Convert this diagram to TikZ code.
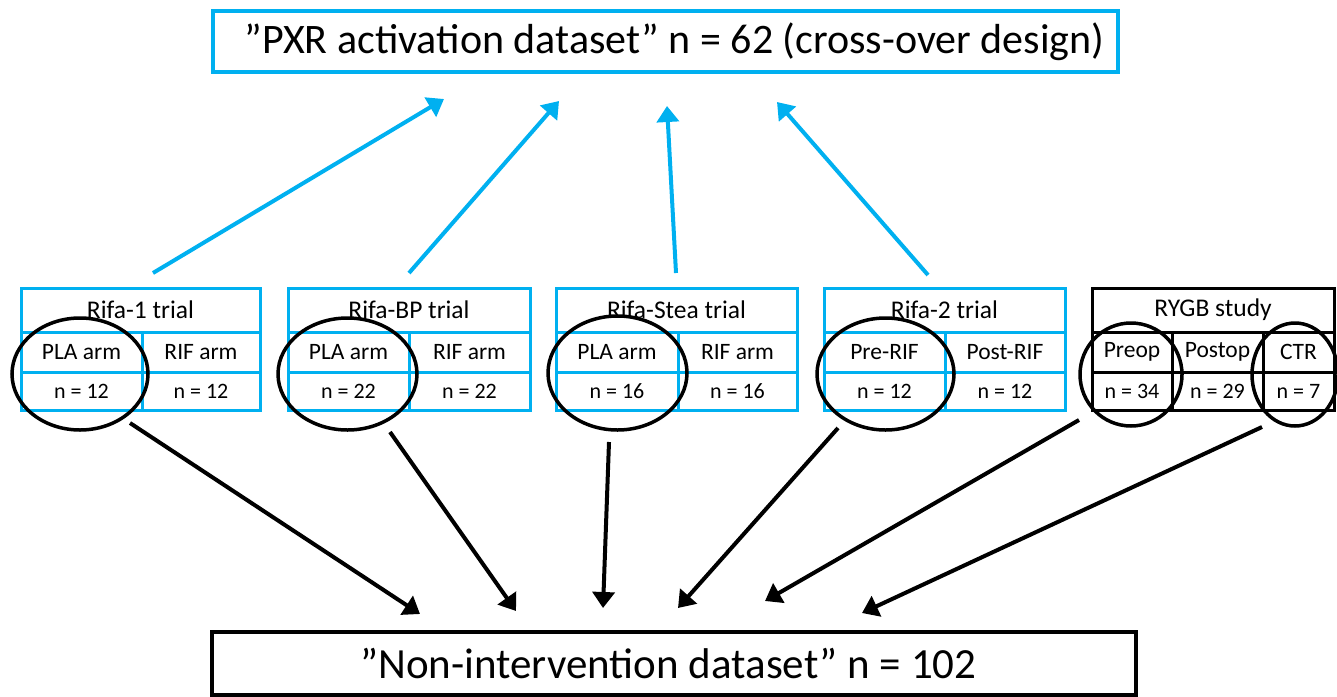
\documentclass[tikz,border=0pt]{standalone}
\usepackage{fontspec}
\setmainfont{Carlito}
\usetikzlibrary{arrows.meta,shapes.geometric}
\definecolor{cblue}{HTML}{00B0F0}
\tikzset{
  cellb/.style={draw=cblue, line width=3pt, inner sep=0pt, outer sep=0pt},
  cellk/.style={draw=black, line width=3pt, inner sep=0pt, outer sep=0pt},
  ttl/.style={font=\fontsize{25.5}{28}\selectfont},
  armf/.style={font=\fontsize{23.5}{26}\selectfont},
  nf/.style={font=\fontsize{22}{24}\selectfont},
  ell/.style={ellipse, draw=black, line width=3.5pt, inner sep=0pt},
  barrow/.style={draw=cblue, line width=4pt, -{Triangle[length=16pt,width=22pt]}},
  karrow/.style={draw=black, line width=4pt, -{Triangle[length=16pt,width=22pt]}},
}
% #1 id, #2 style, #3 L, #4 M, #5 R, #6 title, #7 a, #8 b, #9 n
\newcommand\mytrial[9]{%
  \node[#2, ttl, minimum width={(#5-#3)*1pt}, minimum height=44pt] (#1t) at ({(#3+#5)/2},310) {#6};
  \node[#2, armf, minimum width={(#4-#3)*1pt}, minimum height=40pt] (#1a) at ({(#3+#4)/2},352) {#7};
  \node[#2, armf, minimum width={(#5-#4)*1pt}, minimum height=40pt] (#1b) at ({(#4+#5)/2},352) {#8};
  \node[#2, nf, minimum width={(#4-#3)*1pt}, minimum height=38pt] (#1c) at ({(#3+#4)/2},391) {n = #9};
  \node[#2, nf, minimum width={(#5-#4)*1pt}, minimum height=38pt] (#1d) at ({(#4+#5)/2},391) {n = #9};
}
\begin{document}
\begin{tikzpicture}[x=1pt,y=-1pt]
\useasboundingbox (0,0) rectangle (1337,696);

% top and bottom boxes
\node[draw=cblue, line width=4pt, minimum width=905pt, minimum height=61pt, inner sep=0pt] (top) at (665.5,41.5) {};
\node[font=\fontsize{42}{46}\selectfont] (toptxt) at (674.5,41.5) {”PXR activation dataset” n = 62 (cross-over design)};
\node[draw=black, line width=3.5pt, minimum width=924pt, minimum height=63pt, inner sep=0pt] (bot) at (674,663.5) {};
\node[font=\fontsize{43}{47}\selectfont] (bottxt) at (668.5,663.5) {”Non-intervention dataset” n = 102};

% trials
\mytrial{ra}{cellb}{21}{142}{260}{Rifa-1 trial}{PLA arm}{RIF arm}{12}
\mytrial{rb}{cellb}{288}{409}{530}{Rifa-BP trial}{PLA arm}{RIF arm}{22}
\mytrial{rc}{cellb}{556}{678}{797}{Rifa-Stea trial}{PLA arm}{RIF arm}{16}
\mytrial{rd}{cellb}{824}{945}{1065}{Rifa-2 trial}{Pre-RIF}{Post-RIF}{12}

% RYGB study
\node[cellk, ttl, minimum width=242pt, minimum height=44pt] (ryt) at (1213,310) {RYGB study};
\node[cellk, armf, minimum width=80pt, minimum height=40pt] (rya) at (1132,352) {Preop};
\node[cellk, armf, minimum width=91pt, minimum height=40pt] (ryb) at (1217.5,352) {Postop};
\node[cellk, armf, minimum width=71pt, minimum height=40pt] (ryc) at (1298.5,352) {CTR};
\node[cellk, nf, minimum width=80pt, minimum height=38pt] (ryd) at (1132,391) {n = 34};
\node[cellk, nf, minimum width=91pt, minimum height=38pt] (rye) at (1217.5,391) {n = 29};
\node[cellk, nf, minimum width=71pt, minimum height=38pt] (ryf) at (1298.5,391) {n = 7};

% ellipses
\node[ell, minimum width=136pt, minimum height=112pt] (e1) at (80,374) {};
\node[ell, minimum width=139pt, minimum height=112pt] (e2) at (347.5,374) {};
\node[ell, minimum width=139pt, minimum height=114pt] (e3) at (617.5,373) {};
\node[ell, minimum width=137pt, minimum height=112pt] (e4) at (885.5,374) {};
\node[ell, minimum width=102pt, minimum height=103pt] (e5) at (1131,374.5) {};
\node[ell, minimum width=86pt, minimum height=103pt] (e6) at (1295,374.5) {};

% blue arrow coordinates
\coordinate (b1s) at (153,273); \coordinate (b1e) at (444,99);
\coordinate (b2s) at (409,273); \coordinate (b2e) at (559,101);
\coordinate (b3s) at (676,273); \coordinate (b3e) at (667,106);
\coordinate (b4s) at (928,275); \coordinate (b4e) at (777,102);
\draw[barrow] (b1s) -- (b1e);
\draw[barrow] (b2s) -- (b2e);
\draw[barrow] (b3s) -- (b3e);
\draw[barrow] (b4s) -- (b4e);

% black arrow coordinates
\coordinate (k1s) at (130,423);  \coordinate (k1e) at (420,614);
\coordinate (k2s) at (390,432);  \coordinate (k2e) at (516,611);
\coordinate (k3s) at (609,442);  \coordinate (k3e) at (603,608);
\coordinate (k4s) at (838,428);  \coordinate (k4e) at (678,608);
\coordinate (k5s) at (1079,420); \coordinate (k5e) at (765,601);
\coordinate (k6s) at (1262,427); \coordinate (k6e) at (862,613);
\draw[karrow] (k1s) -- (k1e);
\draw[karrow] (k2s) -- (k2e);
\draw[karrow] (k3s) -- (k3e);
\draw[karrow] (k4s) -- (k4e);
\draw[karrow] (k5s) -- (k5e);
\draw[karrow] (k6s) -- (k6e);
\end{tikzpicture}
\end{document}
